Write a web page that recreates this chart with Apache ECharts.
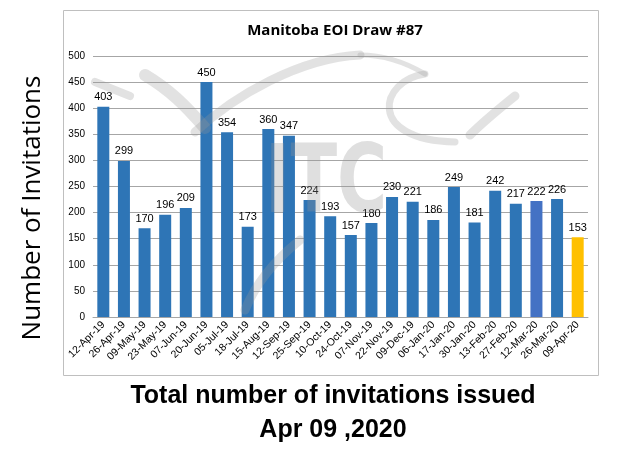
<!DOCTYPE html>
<html><head><meta charset="utf-8">
<script src="https://cdn.jsdelivr.net/npm/echarts@6/dist/echarts.min.js"></script>
<style>html,body{margin:0;padding:0;background:#fff}#c{width:630px;height:450px}</style>
</head><body><div id="c"></div>
<script>
const categories = ["12-Apr-19","26-Apr-19","09-May-19","23-May-19","07-Jun-19","20-Jun-19","05-Jul-19","18-Jul-19","15-Aug-19","12-Sep-19","25-Sep-19","10-Oct-19","24-Oct-19","07-Nov-19","22-Nov-19","09-Dec-19","06-Jan-20","17-Jan-20","30-Jan-20","13-Feb-20","27-Feb-20","12-Mar-20","26-Mar-20","09-Apr-20"];
const invitations = [403,299,170,196,209,450,354,173,360,347,224,193,157,180,230,221,186,249,181,242,217,222,226,153];
const highlight = {"12-Mar-20":"#4472C4","09-Apr-20":"#FFC000"};
const yTicks = {min:0,max:500,interval:50};

const chart = echarts.init(document.getElementById('c'));
const data = invitations.map((v,i)=>({value:v,itemStyle:{color:highlight[categories[i]]||'#2E75B6'}}));
const wm = 'rgba(150,150,150,0.28)';
function curve(x1,y1,cx1,cy1,cx2,cy2,x2,y2,w){
  return {type:'bezierCurve',z:50,silent:true,shape:{x1,y1,cpx1:cx1,cpy1:cy1,cpx2:cx2,cpy2:cy2,x2,y2},
    style:{stroke:wm,lineWidth:w,fill:'none',lineCap:'round'}};
}
chart.setOption({
  animation:false,
  backgroundColor:'#fff',
  textStyle:{fontFamily:'Open Sans'},
  graphic:[
    {type:'rect',shape:{x:63.5,y:10.5,width:535,height:365},style:{fill:'none',stroke:'#bfbfbf',lineWidth:1},z:-1},
    curve(95,82,110,88,120,92,130,96,8),
    curve(145,75,170,90,185,105,205,128,12),
    curve(195,132,235,95,300,58,360,55,9),
    curve(360,55,385,55,405,62,425,74,5),
    curve(425,74,380,80,365,140,455,142,7),
    curve(470,135,485,120,500,108,515,96,9),
    curve(245,310,255,285,275,260,300,240,9),
    {type:'text',z:50,silent:true,x:265,y:140,scaleX:0.72,style:{text:'ITC',font:'bold 95px "DejaVu Sans"',fill:'rgba(150,150,150,0.3)'}},
    {type:'text',z:60,x:333,y:384,style:{text:'Total number of invitations issued',align:'center',font:'bold 25px "Liberation Sans"',fill:'#000'}},
    {type:'text',z:60,x:333,y:418,style:{text:'Apr 09 ,2020',align:'center',font:'bold 25px "Liberation Sans"',fill:'#000'}},
    {type:'text',z:60,x:33,y:208,rotation:Math.PI/2,style:{text:'Number of Invitations',align:'center',verticalAlign:'middle',font:'26px "Open Sans"',fill:'#000'}}
  ],
  title:{text:'Manitoba EOI Draw #87',left:330,textAlign:'center',top:18,textStyle:{fontSize:15,fontWeight:'bold',color:'#000',fontFamily:'Open Sans'}},
  grid:{left:93,right:42,top:56,bottom:133},
  xAxis:{type:'category',data:categories,
    axisLine:{lineStyle:{color:'#a6a6a6'}},axisTick:{show:false},
    axisLabel:{rotate:45,interval:0,fontSize:10.5,color:'#000',margin:6,fontFamily:'Liberation Sans'}},
  yAxis:{type:'value',min:yTicks.min,max:yTicks.max,interval:yTicks.interval,
    axisLine:{show:false},axisTick:{show:false},
    axisLabel:{fontSize:10,color:'#000',margin:8,fontFamily:'Liberation Sans'},
    splitLine:{lineStyle:{color:'#a6a6a6'}}},
  series:[{type:'bar',data:data,barWidth:12,
    label:{show:true,position:'top',fontSize:11,color:'#000',distance:4,fontFamily:'Liberation Sans'}}]
});
</script></body></html>
